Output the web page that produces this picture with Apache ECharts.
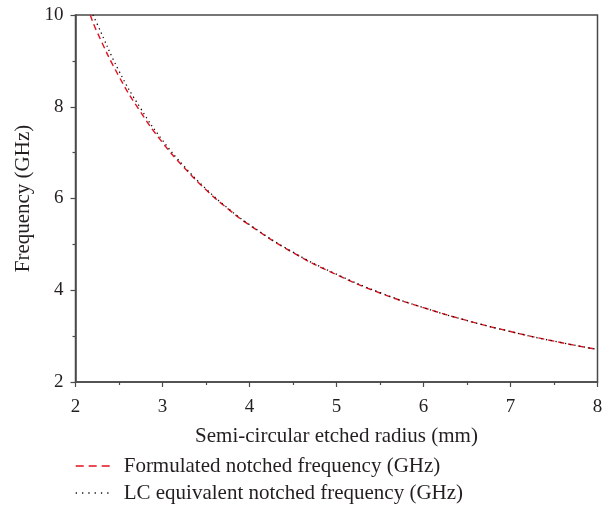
<!DOCTYPE html>
<html>
<head>
<meta charset="utf-8">
<script src="https://cdn.jsdelivr.net/npm/echarts@6/dist/echarts.min.js"></script>
<style>
  html, body { margin: 0; padding: 0; background: #fff; }
  #chart { width: 613px; height: 512px; }
</style>
</head>
<body>
<div id="chart"></div>
<script>
// values
const radiusFormulated = [2.17, 2.25, 2.5, 2.75, 3, 3.25, 3.5, 3.75, 4, 4.5, 5, 5.5, 6, 6.5, 7, 7.5, 8]
const formulated = [10.0, 9.62, 8.66, 7.88, 7.22, 6.67, 6.19, 5.78, 5.42, 4.82, 4.34, 3.94, 3.62, 3.34, 3.10, 2.89, 2.71]
const radiusLC = [2.2, 2.25, 2.5, 2.75, 3, 3.25, 3.5, 3.75, 4, 4.5, 5, 5.5, 6, 6.5, 7, 7.5, 8]
const lcEquivalent = [10.0, 9.80, 8.78, 7.96, 7.27, 6.70, 6.21, 5.79, 5.43, 4.83, 4.35, 3.95, 3.62, 3.34, 3.10, 2.89, 2.71]
const seriesNames = ['Formulated notched frequency (GHz)', 'LC equivalent notched frequency (GHz)']

const font = '"Liberation Serif", "DejaVu Serif", serif'
const axisColor = '#4a4a4a'
const textColor = '#231f20'

const chart = echarts.init(document.getElementById('chart'))

chart.setOption({
  animation: false,
  textStyle: { fontFamily: font },
  grid: {
    left: 75.5,
    right: 15.5,
    top: 15,
    bottom: 130,
    show: true,
    borderColor: axisColor,
    borderWidth: 1.5
  },
  legend: {
    orient: 'vertical',
    left: 75,
    bottom: 7,
    padding: 0,
    itemWidth: 36,
    itemHeight: 14,
    itemGap: 3,
    itemStyle: { color: 'transparent', borderWidth: 0 },
    textStyle: { fontFamily: font, fontSize: 21, lineHeight: 24, color: textColor, padding: [0, 0, 0, 7] },
    data: [
      { name: seriesNames[0], lineStyle: { type: [8, 5], width: 1.4 } },
      { name: seriesNames[1], lineStyle: { type: [1.3, 5], width: 1.3 } }
    ]
  },
  xAxis: {
    type: 'value',
    min: 2,
    max: 8,
    interval: 1,
    name: 'Semi-circular etched radius (mm)',
    nameLocation: 'middle',
    nameGap: 44,
    nameTextStyle: { fontFamily: font, fontSize: 21, color: textColor, verticalAlign: 'top' },
    axisLine: { lineStyle: { color: axisColor, width: 1.5 } },
    axisTick: { length: 5, lineStyle: { color: axisColor, width: 1.2 } },
    minorTick: { show: true, splitNumber: 2, length: 3, lineStyle: { color: axisColor, width: 1.2 } },
    axisLabel: { fontFamily: font, fontSize: 19, color: textColor, margin: 16 },
    splitLine: { show: false }
  },
  yAxis: {
    type: 'value',
    min: 2,
    max: 10,
    interval: 2,
    name: 'Frequency (GHz)',
    nameLocation: 'middle',
    nameGap: 39,
    nameTextStyle: { fontFamily: font, fontSize: 21, color: textColor },
    axisLine: { show: true, lineStyle: { color: axisColor, width: 1.5 } },
    axisTick: { show: true, length: 5, lineStyle: { color: axisColor, width: 1.2 } },
    minorTick: { show: true, splitNumber: 2, length: 3, lineStyle: { color: axisColor, width: 1.2 } },
    axisLabel: { fontFamily: font, fontSize: 19, color: textColor, margin: 12 },
    splitLine: { show: false }
  },
  series: [
    {
      name: seriesNames[0],
      type: 'line',
      smooth: true,
      symbol: 'none',
      data: radiusFormulated.map((r, i) => [r, formulated[i]]),
      lineStyle: { color: '#e3101e', width: 1.4, type: [6, 4] },
      itemStyle: { color: '#e3101e' },
      z: 2
    },
    {
      name: seriesNames[1],
      type: 'line',
      smooth: true,
      symbol: 'none',
      data: radiusLC.map((r, i) => [r, lcEquivalent[i]]),
      lineStyle: { color: '#111', width: 1.3, type: [1.3, 3.5] },
      itemStyle: { color: '#111' },
      z: 3
    }
  ]
})
</script>
</body>
</html>
